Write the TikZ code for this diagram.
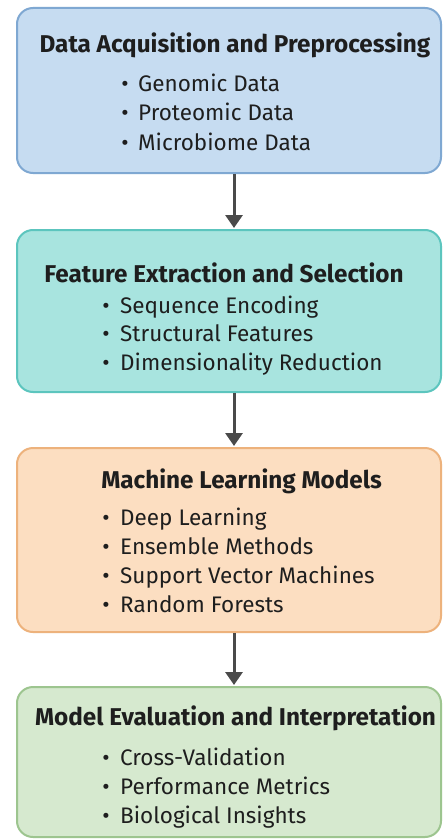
\documentclass[tikz,border=0pt]{standalone}
\usepackage{fontspec}
\setmainfont{Fira Sans}
\usetikzlibrary{arrows.meta}
\definecolor{fillA}{HTML}{C6DCF1}
\definecolor{drawA}{HTML}{7FA8D2}
\definecolor{fillB}{HTML}{A8E4DF}
\definecolor{drawB}{HTML}{5CC5BE}
\definecolor{fillC}{HTML}{FCDEC1}
\definecolor{drawC}{HTML}{EDB27C}
\definecolor{fillD}{HTML}{D6E9CF}
\definecolor{drawD}{HTML}{9DC58F}
\definecolor{arrcol}{HTML}{4A4A4A}
\definecolor{txt}{HTML}{1E1E1E}
\tikzset{
  box/.style={draw, line width=2pt, rounded corners=16pt, inner sep=0pt},
  ttl/.style={anchor=base, inner sep=0pt, text=txt, font=\fontsize{24.3}{28}\selectfont\bfseries},
  itm/.style={anchor=base west, inner sep=0pt, text=txt, font=\fontsize{22.5}{26}\selectfont},
  bul/.style={anchor=base, inner sep=0pt, text=txt, font=\fontsize{22.5}{26}\selectfont},
  arr/.style={draw=arrcol, line width=3pt, -{Triangle[width=17pt,length=13pt]}, shorten >=1pt}
}
\begin{document}
\begin{tikzpicture}[x=1pt,y=-1pt]
\useasboundingbox (0,0) rectangle (443,840);
\fill[white] (0,0) rectangle (443,840);
% boxes
\node[box, fill=fillA, draw=drawA, minimum width=424pt, minimum height=165pt] (b1) at (229,90.5) {};
\node[box, fill=fillB, draw=drawB, minimum width=424pt, minimum height=162pt] (b2) at (229,311) {};
\node[box, fill=fillC, draw=drawC, minimum width=424pt, minimum height=184pt] (b3) at (229,540) {};
\node[box, fill=fillD, draw=drawD, minimum width=424pt, minimum height=150pt] (b4) at (229,762) {};
% arrows
\draw[arr] ([xshift=5pt]b1.south) -- ([xshift=5pt]b2.north);
\draw[arr] ([xshift=5pt]b2.south) -- ([xshift=5pt]b3.north);
\draw[arr] ([xshift=5pt]b3.south) -- ([xshift=5pt]b4.north);
% box 1
\node[ttl] (t1) at (235,53) {Data Acquisition and Preprocessing};
\node[bul] (p11) at (125,92) {•};
\node[itm] (i11) at (138,92) {Genomic Data};
\node[bul] (p12) at (125,121) {•};
\node[itm] (i12) at (138,121) {Proteomic Data};
\node[bul] (p13) at (125,150) {•};
\node[itm] (i13) at (138,150) {Microbiome Data};
% box 2
\node[ttl] (t2) at (224,282) {Feature Extraction and Selection};
\node[bul] (p21) at (106,313) {•};
\node[itm] (i21) at (120,313) {Sequence Encoding};
\node[bul] (p22) at (106,341) {•};
\node[itm] (i22) at (120,341) {Structural Features};
\node[bul] (p23) at (106,370) {•};
\node[itm] (i23) at (120,370) {Dimensionality Reduction};
% box 3
\node[ttl] (t3) at (241.5,488) {Machine Learning Models};
\node[bul] (p31) at (106,525) {•};
\node[itm] (i31) at (120,525) {Deep Learning};
\node[bul] (p32) at (106,554) {•};
\node[itm] (i32) at (120,554) {Ensemble Methods};
\node[bul] (p33) at (106,583) {•};
\node[itm] (i33) at (120,583) {Support Vector Machines};
\node[bul] (p34) at (106,612) {•};
\node[itm] (i34) at (120,612) {Random Forests};
% box 4
\node[ttl] (t4) at (235.5,725) {Model Evaluation and Interpretation};
\node[bul] (p41) at (106,765) {•};
\node[itm] (i41) at (120,765) {Cross-Validation};
\node[bul] (p42) at (106,794) {•};
\node[itm] (i42) at (120,794) {Performance Metrics};
\node[bul] (p43) at (106,823) {•};
\node[itm] (i43) at (120,823) {Biological Insights};
\end{tikzpicture}
\end{document}
